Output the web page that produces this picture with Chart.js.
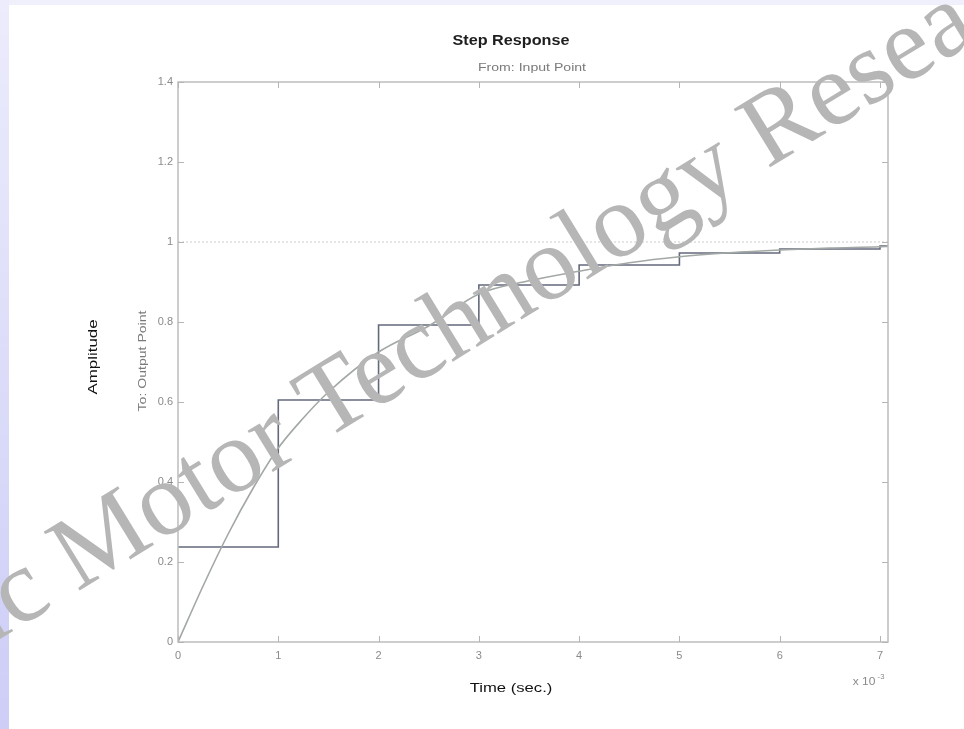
<!DOCTYPE html>
<html>
<head>
<meta charset="utf-8">
<title>Step Response</title>
<script src="https://cdn.jsdelivr.net/npm/chart.js"></script>
<style>
  html, body { margin: 0; padding: 0; background: #fff; }
  canvas { display: block; }
</style>
</head>
<body>
<canvas id="chart" width="964" height="729"></canvas>
<script>
// discrete step response (stairs)
const stepTimes = [0, 1, 2, 3, 4, 5, 6, 7, 7.08];
const stepValues = [0.2375, 0.605, 0.7925, 0.8925, 0.9425, 0.9725, 0.9825, 0.99, 0.99];

// continuous step response
const curveTimes = [0, 0.25, 0.5, 0.75, 1, 1.25, 1.5, 2, 2.5, 3, 3.5, 4, 4.5, 5, 5.5, 6, 6.5, 7, 7.08];
const curveValues = [0, 0.14, 0.27, 0.385, 0.485, 0.56, 0.625, 0.725, 0.79, 0.87, 0.903, 0.927, 0.948, 0.963, 0.973, 0.98, 0.985, 0.988, 0.989];

// steady state reference
const refTimes = [0, 7.08];
const refValues = [1, 1];

const xTicks = [0, 1, 2, 3, 4, 5, 6, 7];
const yTicks = [0, 0.2, 0.4, 0.6, 0.8, 1, 1.2, 1.4];

const toPoints = (xs, ys) => xs.map((x, i) => ({ x: x, y: ys[i] }));

// text with horizontal stretch, optionally rotated
function drawText(ctx, text, x, y, font, color, stretch, angle) {
    ctx.save();
    ctx.translate(x, y);
    if (angle) ctx.rotate(angle);
    ctx.scale(stretch, 1);
    ctx.font = font;
    ctx.fillStyle = color;
    ctx.textAlign = 'center';
    ctx.textBaseline = 'alphabetic';
    ctx.fillText(text, 0, 0);
    ctx.restore();
}

const decor = {
    id: 'decor',
    beforeDraw(chart) {
        const ctx = chart.ctx;
        ctx.save();
        ctx.fillStyle = '#ffffff';
        ctx.fillRect(0, 0, chart.width, chart.height);
        ctx.fillStyle = '#f0f0fd';
        ctx.fillRect(0, 0, chart.width, 5);
        const g = ctx.createLinearGradient(0, 0, 0, chart.height);
        g.addColorStop(0, '#ececfc');
        g.addColorStop(1, '#cdcdf7');
        ctx.fillStyle = g;
        ctx.fillRect(0, 0, 9, chart.height);
        ctx.restore();
    },
    afterDatasetsDraw(chart) {
        const ctx = chart.ctx;
        const a = chart.chartArea;
        const xs = chart.scales.x, ys = chart.scales.y;
        ctx.save();
        // frame
        ctx.strokeStyle = '#bdbdbd';
        ctx.lineWidth = 1.5;
        ctx.strokeRect(a.left, a.top, a.right - a.left, a.bottom - a.top);
        // inward ticks on all sides
        ctx.lineWidth = 1;
        ctx.strokeStyle = '#b5b5b5';
        ctx.beginPath();
        xs.ticks.forEach(t => {
            const px = Math.round(xs.getPixelForValue(t.value)) + 0.5;
            ctx.moveTo(px, a.bottom); ctx.lineTo(px, a.bottom - 6);
            ctx.moveTo(px, a.top); ctx.lineTo(px, a.top + 6);
        });
        ys.ticks.forEach(t => {
            const py = Math.round(ys.getPixelForValue(t.value)) + 0.5;
            ctx.moveTo(a.left, py); ctx.lineTo(a.left + 6, py);
            ctx.moveTo(a.right, py); ctx.lineTo(a.right - 6, py);
        });
        ctx.stroke();
        ctx.restore();

        // titles and axis labels
        drawText(ctx, 'Step Response', 511, 45, 'bold 15px Arial', '#1e1e1e', 1.08, 0);
        drawText(ctx, 'From: Input Point', 532, 71, '11px Arial', '#7a7a7a', 1.28, 0);
        drawText(ctx, 'Amplitude', 97, 357, '13px Arial', '#111111', 1.3, -Math.PI / 2);
        drawText(ctx, 'To: Output Point', 146, 361, '11px Arial', '#7a7a7a', 1.28, -Math.PI / 2);
        drawText(ctx, 'Time (sec.)', 511, 692, '13px Arial', '#111111', 1.28, 0);
        drawText(ctx, 'x 10', 864, 685, '10px Arial', '#8a8a8a', 1.2, 0);
        drawText(ctx, '-3', 881, 679, '7px Arial', '#8a8a8a', 1.1, 0);
    },
    afterDraw(chart) {
        // watermark on top of everything
        const ctx = chart.ctx;
        ctx.save();
        ctx.translate(77, 592);
        ctx.rotate(-31.5 * Math.PI / 180);
        ctx.font = '105px "Liberation Serif"';
        ctx.fillStyle = '#b6b6b6';
        ctx.textBaseline = 'alphabetic';
        ctx.textAlign = 'left';
        ctx.fillText('Motor Technology Research', 0, 0);
        ctx.textAlign = 'right';
        ctx.fillText('Electric ', 0, 0);
        ctx.restore();
    }
};

new Chart(document.getElementById('chart'), {
    type: 'line',
    data: {
        datasets: [
            {
                data: toPoints(refTimes, refValues),
                borderColor: '#d6d6d6',
                borderWidth: 1.2,
                borderDash: [2, 2],
                pointRadius: 0
            },
            {
                data: toPoints(curveTimes, curveValues),
                borderColor: '#a2a8a4',
                borderWidth: 1.6,
                pointRadius: 0,
                cubicInterpolationMode: 'monotone'
            },
            {
                data: toPoints(stepTimes, stepValues),
                borderColor: '#646a7c',
                borderWidth: 1.6,
                pointRadius: 0,
                stepped: true
            }
        ]
    },
    options: {
        responsive: false,
        animation: false,
        devicePixelRatio: 1,
        layout: { padding: { left: 148, right: 76, top: 82, bottom: 62 } },
        plugins: {
            legend: { display: false },
            tooltip: { enabled: false }
        },
        scales: {
            x: {
                type: 'linear',
                min: 0,
                max: 7.08,
                afterBuildTicks: s => { s.ticks = xTicks.map(v => ({ value: v })); },
                afterFit: s => { s.height = 25; },
                grid: { display: false, drawTicks: false },
                border: { display: false },
                ticks: {
                    padding: 7,
                    maxRotation: 0,
                    color: '#8a8a8a',
                    font: { family: 'Arial', size: 11 }
                }
            },
            y: {
                type: 'linear',
                min: 0,
                max: 1.4,
                afterBuildTicks: s => { s.ticks = yTicks.map(v => ({ value: v })); },
                afterFit: s => { s.width = 30; },
                grid: { display: false, drawTicks: false },
                border: { display: false },
                ticks: {
                    padding: 5,
                    color: '#8a8a8a',
                    font: { family: 'Arial', size: 11 },
                    callback: v => String(Math.round(v * 10) / 10)
                }
            }
        }
    },
    plugins: [decor]
});
</script>
</body>
</html>
